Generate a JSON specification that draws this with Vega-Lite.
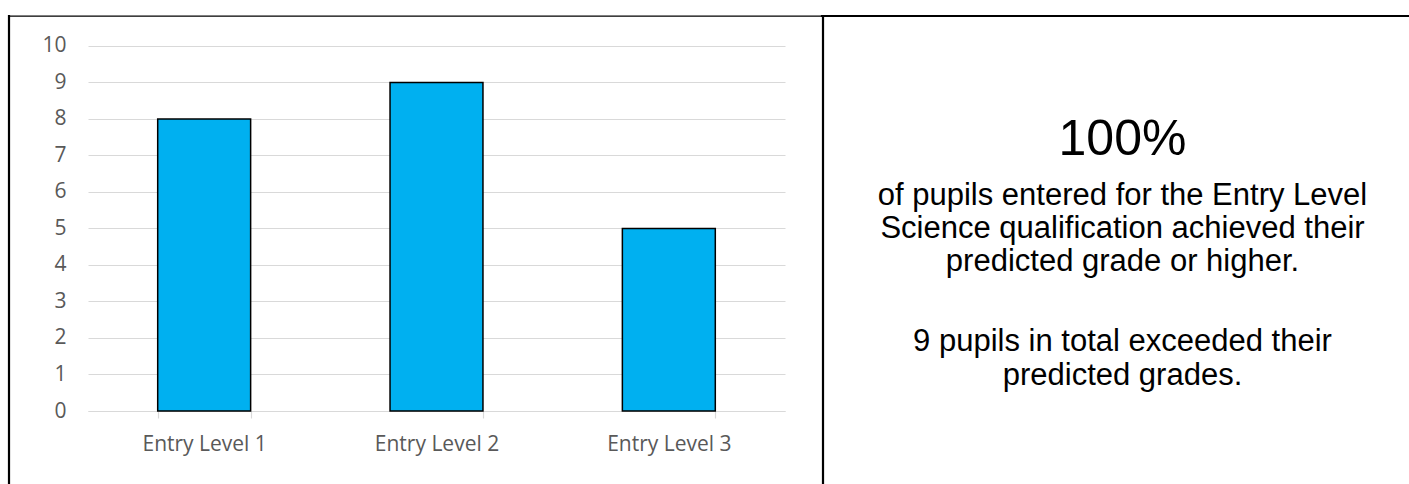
{
  "$schema": "https://vega.github.io/schema/vega-lite/v6.json",
  "background": "white",
  "padding": {"left": 7, "top": 14, "right": 0, "bottom": 0},
  "bounds": "flush",
  "spacing": 0,
  "config": {
    "view": {"stroke": null},
    "font": "Open Sans"
  },
  "vconcat": [
    {
      "bounds": "flush",
      "spacing": 0,
      "hconcat": [
        {"width": 813, "height": 0.01, "data": {"values": []}, "mark": "point", "view": {"stroke": "black", "strokeWidth": 1.4}},
        {"width": 587, "height": 0.01, "data": {"values": []}, "mark": "point", "view": {"stroke": "black", "strokeWidth": 2.2}}
      ]
    },
    {
      "bounds": "flush",
      "spacing": 0,
      "hconcat": [
        {"width": 0.01, "height": 468, "data": {"values": []}, "mark": "point", "view": {"stroke": "black", "strokeWidth": 2.2}},
        {"width": 78, "height": 0.01, "data": {"values": []}, "mark": "point"},
        {
          "width": 697,
          "height": 395,
          "data": {
            "values": [
              {"level": "Entry Level 1", "pupils": 8},
              {"level": "Entry Level 2", "pupils": 9},
              {"level": "Entry Level 3", "pupils": 5}
            ]
          },
          "mark": {"type": "bar", "fill": "#00B0F0", "stroke": "black", "strokeWidth": 1.5},
          "encoding": {
            "x": {
              "field": "level",
              "type": "nominal",
              "sort": null,
              "scale": {"paddingInner": 0.6, "paddingOuter": 0.3},
              "axis": {
                "title": null,
                "labelAngle": 0,
                "grid": false,
                "domainColor": "#d9d9d9",
                "domainWidth": 1.2,
                "tickColor": "#d9d9d9",
                "tickWidth": 1.2,
                "tickSize": 7,
                "tickBand": "extent",
                "labelFont": "Open Sans",
                "labelFontSize": 21,
                "labelColor": "#595959",
                "labelPadding": 15
              }
            },
            "y": {
              "field": "pupils",
              "type": "quantitative",
              "scale": {"domain": [0, 10.82], "nice": false},
              "axis": {
                "title": null,
                "values": [0, 1, 2, 3, 4, 5, 6, 7, 8, 9, 10],
                "domain": false,
                "ticks": false,
                "grid": true,
                "gridColor": "#d9d9d9",
                "gridWidth": 1.2,
                "labelFont": "Open Sans",
                "labelFontSize": 21,
                "labelColor": "#595959",
                "labelPadding": 22
              }
            }
          }
        },
        {"width": 38, "height": 0.01, "data": {"values": []}, "mark": "point"},
        {"width": 0.01, "height": 468, "data": {"values": []}, "mark": "point", "view": {"stroke": "black", "strokeWidth": 2.2}},
        {
          "bounds": "flush",
          "spacing": 0,
          "vconcat": [
            {
              "width": 587,
              "height": 99,
              "data": {"values": []},
              "mark": "point",
              "title": {
                "text": "100%",
                "subtitle": ["of pupils entered for the Entry Level", "Science qualification achieved their", "predicted grade or higher."],
                "orient": "bottom",
                "anchor": "middle",
                "frame": "group",
                "offset": 0,
                "dx": 5,
                "font": "Liberation Sans",
                "fontSize": 50,
                "fontWeight": "normal",
                "color": "black",
                "subtitleFont": "Liberation Sans",
                "subtitleFontSize": 31,
                "subtitleColor": "black",
                "subtitleLineHeight": 33,
                "subtitlePadding": 16
              }
            },
            {
              "width": 587,
              "height": 212,
              "data": {"values": []},
              "mark": "point",
              "title": {
                "text": ["9 pupils in total exceeded their", "predicted grades."],
                "orient": "bottom",
                "anchor": "middle",
                "frame": "group",
                "offset": 0,
                "dx": 5,
                "font": "Liberation Sans",
                "fontSize": 31,
                "fontWeight": "normal",
                "color": "black",
                "lineHeight": 33.5
              }
            }
          ]
        }
      ]
    }
  ]
}
